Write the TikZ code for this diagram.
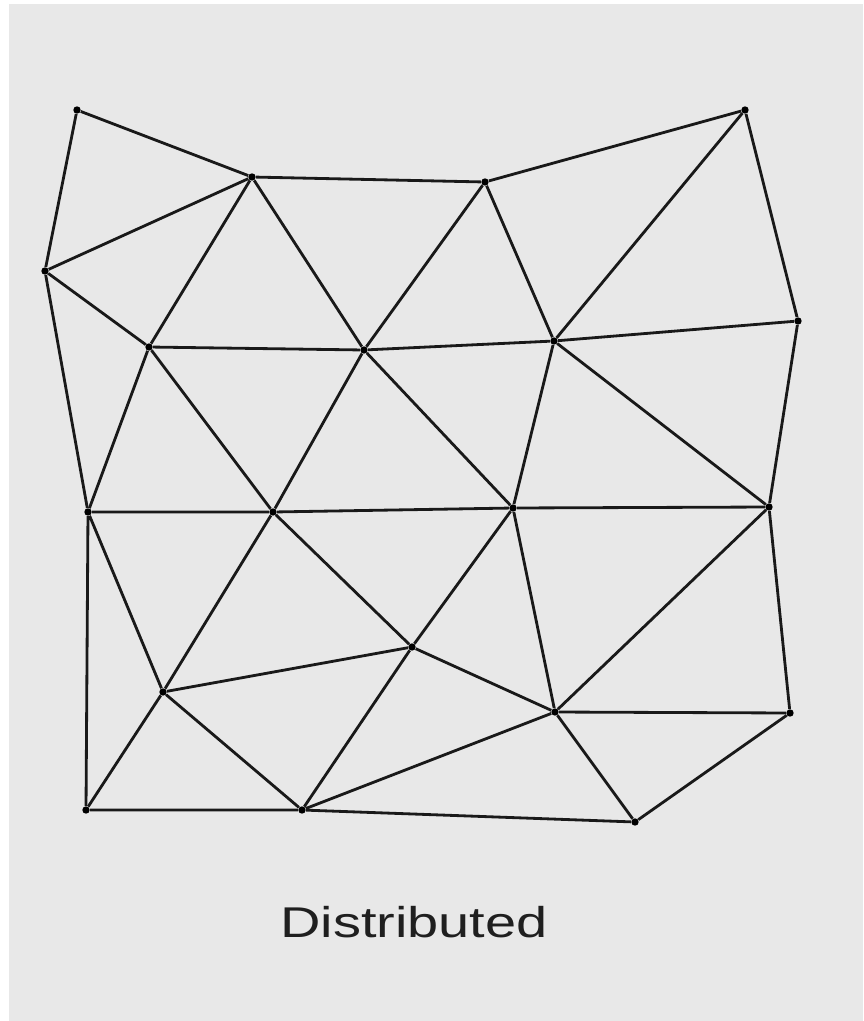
\documentclass[tikz,border=0pt]{standalone}
\usepackage{fontspec}
\usepackage{xcolor}
\usepackage{tikz}
\usetikzlibrary{positioning}
\newfontfamily\labelfont{Liberation Sans}
\definecolor{panelgray}{HTML}{E8E8E8}

\begin{document}
\begin{tikzpicture}[
				x=0.02cm, y=-0.02cm,
				vertex/.style={
					circle,
					fill=black,
					inner sep=0pt,
					minimum size=4.2pt
				},
				edge/.style={
					line width=1.6pt,
					black!90
				}
				]
				\useasboundingbox (0,0) rectangle (863,1021);
				\fill[panelgray] (9,4) rectangle (863,1021);
				
				% mesh points
				\node[vertex] (v1) at (77,110) {};
				\node[vertex] (v2) at (252,177) {};
				\node[vertex] (v3) at (485,182) {};
				\node[vertex] (v4) at (745,110) {};
				\node[vertex] (v5) at (45,271) {};
				\node[vertex] (v6) at (149,347) {};
				\node[vertex] (v7) at (364,350) {};
				\node[vertex] (v8) at (554,341) {};
				\node[vertex] (v9) at (798,321) {};
				\node[vertex] (v10) at (88,512) {};
				\node[vertex] (v11) at (273,512) {};
				\node[vertex] (v12) at (513,508) {};
				\node[vertex] (v13) at (769,507) {};
				\node[vertex] (v14) at (163,692) {};
				\node[vertex] (v15) at (412,647) {};
				\node[vertex] (v16) at (555,712) {};
				\node[vertex] (v17) at (790,713) {};
				\node[vertex] (v18) at (86,810) {};
				\node[vertex] (v19) at (302,810) {};
				\node[vertex] (v20) at (635,822) {};
				
				% triangle edges
				\draw[edge] (v1) -- (v2) (v1) -- (v5) (v5) -- (v2) (v2) -- (v3) (v3) -- (v4);
				\draw[edge] (v2) -- (v6) (v2) -- (v7) (v3) -- (v7) (v3) -- (v8) (v4) -- (v8) (v4) -- (v9);
				\draw[edge] (v5) -- (v6) (v5) -- (v10) (v6) -- (v7) (v7) -- (v8) (v8) -- (v9);
				\draw[edge] (v6) -- (v10) (v6) -- (v11) (v7) -- (v11) (v7) -- (v12) (v8) -- (v12) (v8) -- (v13) (v9) -- (v13);
				\draw[edge] (v10) -- (v11) (v11) -- (v12) (v12) -- (v13);
				\draw[edge] (v10) -- (v14) (v10) -- (v18) (v11) -- (v14) (v11) -- (v15) (v12) -- (v15) (v12) -- (v16) (v13) -- (v16) (v13) -- (v17);
				\draw[edge] (v14) -- (v15) (v15) -- (v16) (v16) -- (v17);
				\draw[edge] (v14) -- (v18) (v14) -- (v19) (v15) -- (v19) (v16) -- (v19) (v16) -- (v20) (v17) -- (v20);
				\draw[edge] (v18) -- (v19) (v19) -- (v20);
				
				\node[font=\labelfont\fontsize{24.5}{28}\selectfont, text=black!88] (caption) at (414,922) {\scalebox{1.3}[1]{Distributed}};
			\end{tikzpicture}
\end{document}
